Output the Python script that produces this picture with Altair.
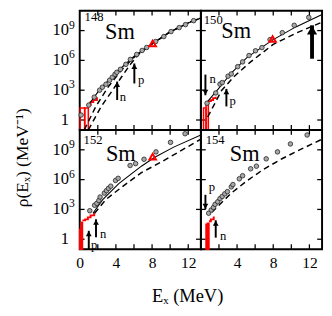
import altair as alt
import pandas as pd

W = 125
H = 123
XMAX = 13.4
FONT = "Liberation Serif"

xtick_vals = [2, 4, 6, 8, 10, 12]
ytick_vals = [0, 3, 6, 9]
ylab_vals = [0, 3, 6, 9]
ylab_base = ["1", "10", "10", "10"]
ylab_exp = ["", "3", "6", "9"]
xlab_left = [0, 4, 8, 12]
xlab_right = [4, 8, 12]

# ---------------- 148Sm ----------------
pts148_E = [0.15, 1.0, 1.6, 2.2, 2.5, 2.9, 3.3, 3.6, 3.9, 4.1, 4.5, 5.1, 5.6, 6.3, 6.9, 7.4, 8.4, 9.3, 10.1, 11.0, 11.7, 12.6]
pts148_lg = [0.5, 1.5, 2.3, 3.0, 3.3, 3.6, 4.0, 4.3, 4.6, 4.8, 5.1, 5.6, 6.1, 6.6, 7.0, 7.3, 7.9, 8.4, 8.9, 9.3, 9.6, 10.0]
sol148_E = [1.0, 2.18, 3.97, 6.11, 8.07, 10.04, 12.18, 13.4]
sol148_lg = [1.55, 3.03, 4.73, 6.49, 7.71, 8.89, 9.85, 10.26]
dA148_E = [0.5, 1.8, 3.2, 4.6, 6.0, 8.07, 10.04, 12.18, 13.4]
dA148_lg = [-1.0, 1.4, 3.4, 5.0, 6.3, 7.71, 8.89, 9.85, 10.26]
dB148_E = [0.95, 2.4, 3.6, 4.6, 5.6, 6.6, 8.07, 10.04, 12.18, 13.4]
dB148_lg = [-1.0, 1.4, 2.95, 4.3, 5.6, 6.7, 7.71, 8.89, 9.85, 10.26]
lev148_lo = [0.05, 0.55]
lev148_hi = [0.55, 0.95]
lev148_h = [1.2, 1.2]
st148_E = [0.95, 1.2, 1.5, 1.9]
st148_lg = [1.5, 1.8, 2.0, 2.3]
tri148_E = [8.07]
tri148_lg = [7.71]
arr148_E = [4.14, 6.04]
arr148_tail = [2.01, 3.68]
arr148_tip = [3.87, 5.69]
arr148_lab = ["n", "p"]
arr148_labE = [4.77, 6.79]
arr148_labY = [2.33, 4.0]
mass148 = ["148", 0.54, 10.33, 2.8, 8.12]

# ---------------- 150Sm ----------------
pts150_E = [0.68, 1.64, 2.11, 2.36, 3.0, 3.36, 4.07, 4.61, 5.32, 6.04, 6.75, 7.65, 9.0, 10.32, 11.93]
pts150_lg = [1.69, 2.72, 3.61, 3.77, 4.41, 4.64, 5.37, 5.85, 6.49, 6.97, 7.29, 8.09, 8.79, 9.53, 10.33]
sol150_E = [0.68, 1.93, 3.36, 5.14, 8.0, 10.5, 13.4]
sol150_lg = [1.8, 3.13, 4.73, 6.33, 8.09, 9.37, 10.62]
dA150_E = [0.75, 2.29, 3.71, 5.5, 8.0, 10.5, 13.4]
dA150_lg = [0.3, 2.97, 4.41, 5.85, 7.61, 8.73, 9.85]
lev150_lo = [0.29, 0.57]
lev150_hi = [0.57, 0.82]
lev150_h = [1.2, 1.75]
st150_E = [0.82, 1.1, 1.35, 1.64]
st150_lg = [1.9, 2.0, 2.2, 2.35]
tri150_E = [7.93]
tri150_lg = [8.15]
arr150_E = [0.5, 2.82]
arr150_tail = [4.57, 1.37]
arr150_tip = [2.49, 3.13]
arr150_lab = ["n", "p"]
arr150_labE = [1.29, 3.5]
arr150_labY = [4.09, 1.9]
big150_E = [12.29]
big150_tail = [6.17]
big150_tip = [9.53]
mass150 = ["150", 0.32, 10.09, 2.25, 8.22]

# ---------------- 152Sm ----------------
pts152_E = [1.11, 1.64, 1.89, 2.11, 2.25, 2.72, 2.96, 3.18, 3.43, 3.96, 4.25, 5.57, 6.18, 7.11, 8.43, 10.04, 11.65]
pts152_lg = [2.87, 3.42, 3.61, 3.90, 4.25, 4.64, 4.89, 5.12, 5.34, 5.91, 6.13, 7.42, 7.61, 8.05, 8.79, 9.75, 10.62]
sol152_E = [1.46, 2.54, 4.32, 6.82, 8.25, 10.39, 13.4]
sol152_lg = [2.62, 3.99, 5.6, 7.35, 8.22, 9.27, 10.49]
dA152_E = [1.64, 2.89, 4.68, 6.82, 8.96, 13.4]
dA152_lg = [2.62, 3.99, 5.27, 6.71, 7.74, 10.07]
lev152_lo = [0.0, 0.15]
lev152_hi = [0.15, 0.3]
lev152_h = [1.0, 1.7]
st152_E = [0.3, 0.6, 0.9, 1.2, 1.6]
st152_lg = [1.9, 2.0, 2.2, 2.4, 2.7]
tri152_E = [8.07]
tri152_lg = [8.31]
arr152_E = [1.0, 1.8]
arr152_tail = [-1.0, 0.2]
arr152_tip = [0.85, 2.0]
arr152_lab = ["p", "n"]
arr152_labE = [1.6, 2.6]
arr152_labY = [-0.6, 0.5]
mass152 = ["152", 0.43, 9.94, 2.9, 7.84]

# ---------------- 154Sm ----------------
pts154_E = [0.86, 1.14, 1.39, 1.57, 1.86, 2.11, 2.36, 2.64, 2.93, 3.36, 3.54, 4.25, 4.61, 5.5, 6.14, 7.22, 8.47, 9.9, 11.75]
pts154_lg = [2.62, 2.94, 3.2, 3.51, 3.77, 4.09, 4.31, 4.57, 4.79, 5.27, 5.5, 6.08, 6.39, 7.09, 7.35, 8.09, 8.79, 9.59, 10.49]
dA154_E = [1.21, 3.36, 5.14, 6.93, 9.07, 11.2, 13.4]
dA154_lg = [2.72, 4.64, 5.91, 7.04, 8.15, 9.11, 10.07]
lev154_lo = [0.57, 0.73]
lev154_hi = [0.73, 0.89]
lev154_h = [1.5, 1.6]
st154_E = [0.89, 1.1, 1.42]
st154_lg = [1.8, 2.0, 2.3]
arr154_E = [0.5, 1.64]
arr154_tail = [4.47, 0.16]
arr154_tip = [3.03, 1.91]
arr154_lab = ["p", "n"]
arr154_labE = [1.21, 2.47]
arr154_labY = [5.2, 0.32]
mass154 = ["154", 0.54, 9.94, 3.2, 7.84]

xs = alt.Scale(domain=[0, XMAX], nice=False, zero=False)
ys = alt.Scale(domain=[-1, 11], nice=False, zero=False)


def panel(pts_E, pts_lg, lines, lev, stair, tri, arrows, mass, xlabels, ylabels, big=None):
    if xlabels:
        ax = alt.Axis(values=xlabels, ticks=False, domain=False, grid=False, labelFont=FONT,
                      labelFontSize=16, labelColor="black", labelPadding=6, title=None,
                      labelFlush=False, labelOverlap=False)
    else:
        ax = None

    def X(f):
        return alt.X(f + ":Q", scale=xs, axis=ax)

    def Y(f):
        return alt.Y(f + ":Q", scale=ys, axis=None)

    L = []
    xt = pd.DataFrame({"t": xtick_vals})
    yt = pd.DataFrame({"t": ytick_vals})
    tick = dict(color="black", strokeWidth=1.3)
    L.append(alt.Chart(xt).mark_rule(**tick).encode(x=X("t"), y=alt.value(H), y2=alt.value(H - 5)))
    L.append(alt.Chart(xt).mark_rule(**tick).encode(x=X("t"), y=alt.value(0), y2=alt.value(5)))
    L.append(alt.Chart(yt).mark_rule(**tick).encode(y=Y("t"), x=alt.value(0), x2=alt.value(5)))
    L.append(alt.Chart(yt).mark_rule(**tick).encode(y=Y("t"), x=alt.value(W - 5), x2=alt.value(W)))

    # discrete levels (red histogram + staircase)
    bars = pd.DataFrame({"lo": lev[0], "hi": lev[1], "h": lev[2]})
    L.append(alt.Chart(bars).mark_rect(fillOpacity=0, stroke="red", strokeWidth=1.6).encode(
        x=X("lo"), x2="hi", y=Y("h"), y2=alt.value(H)))
    sd = pd.DataFrame({"E": stair[0], "lg": stair[1]})
    L.append(alt.Chart(sd).mark_line(interpolate="step-after", color="red", strokeWidth=2).encode(
        x=X("E"), y=Y("lg")))

    # model curves
    for (lx, ly, dashed) in lines:
        ld = pd.DataFrame({"E": lx, "lg": ly})
        if dashed:
            m = alt.Chart(ld).mark_line(color="black", strokeWidth=1.5, strokeDash=[6, 4], clip=True)
        else:
            m = alt.Chart(ld).mark_line(color="black", strokeWidth=1.1, clip=True)
        L.append(m.encode(x=X("E"), y=Y("lg")))

    # data points
    pd_ = pd.DataFrame({"E": pts_E, "lg": pts_lg})
    L.append(alt.Chart(pd_).mark_point(shape="circle", size=22, fill="#a8a8a8", stroke="#222",
                                       strokeWidth=0.8, fillOpacity=1, opacity=1).encode(x=X("E"), y=Y("lg")))

    # neutron resonance point
    if tri:
        td = pd.DataFrame({"E": tri[0], "lg": tri[1]})
        L.append(alt.Chart(td).mark_point(shape="triangle-up", filled=False, color="red", strokeWidth=2,
                                          size=45, opacity=1).encode(x=X("E"), y=Y("lg")))

    # arrows
    ad = pd.DataFrame({"E": arrows[0], "tail": arrows[1], "tip": arrows[2], "lab": arrows[3],
                       "lE": arrows[4], "lY": arrows[5]})
    ad["up"] = ad["tip"] > ad["tail"]
    L.append(alt.Chart(ad).mark_rule(color="black", strokeWidth=2).encode(x=X("E"), y=Y("tail"), y2="tip"))
    up = ad[ad["up"]]
    dn = ad[~ad["up"]]
    if len(up):
        L.append(alt.Chart(up).mark_point(shape="triangle-up", filled=True, color="black", size=36,
                                          opacity=1, yOffset=3).encode(x=X("E"), y=Y("tip")))
    if len(dn):
        L.append(alt.Chart(dn).mark_point(shape="triangle-down", filled=True, color="black", size=36,
                                          opacity=1, yOffset=-3).encode(x=X("E"), y=Y("tip")))
    L.append(alt.Chart(ad).mark_text(font=FONT, fontSize=13, color="black", align="center",
                                     baseline="middle").encode(x=X("lE"), y=Y("lY"), text="lab:N"))
    if big:
        bd = pd.DataFrame({"E": big[0], "tail": big[1], "tip": big[2]})
        L.append(alt.Chart(bd).mark_rule(color="black", strokeWidth=4).encode(x=X("E"), y=Y("tail"), y2="tip"))
        L.append(alt.Chart(bd).mark_point(shape="triangle-up", filled=True, color="black", size=110,
                                          opacity=1, yOffset=5).encode(x=X("E"), y=Y("tip")))

    # nucleus label
    md = pd.DataFrame({"A": [mass[0]], "aE": [mass[1]], "aY": [mass[2]], "S": ["Sm"],
                       "sE": [mass[3]], "sY": [mass[4]]})
    L.append(alt.Chart(md).mark_text(font=FONT, fontSize=13, color="black", align="left",
                                     baseline="middle").encode(x=X("aE"), y=Y("aY"), text="A:N"))
    L.append(alt.Chart(md).mark_text(font=FONT, fontSize=23, color="black", align="left",
                                     baseline="alphabetic").encode(x=X("sE"), y=Y("sY"), text="S:N"))

    if ylabels:
        yd = pd.DataFrame({"v": ylab_vals, "b": ylab_base, "e": ylab_exp})
        L.append(alt.Chart(yd).mark_text(font=FONT, fontSize=17, color="black", align="right",
                                         baseline="middle").encode(y=Y("v"), x=alt.value(-11), text="b:N"))
        L.append(alt.Chart(yd).mark_text(font=FONT, fontSize=12, color="black", align="left",
                                         baseline="middle", dy=-6).encode(y=Y("v"), x=alt.value(-11), text="e:N"))

    return alt.layer(*L).properties(width=W, height=H)


p148 = panel(pts148_E, pts148_lg,
             [(sol148_E, sol148_lg, False), (dA148_E, dA148_lg, True), (dB148_E, dB148_lg, True)],
             (lev148_lo, lev148_hi, lev148_h), (st148_E, st148_lg), (tri148_E, tri148_lg),
             (arr148_E, arr148_tail, arr148_tip, arr148_lab, arr148_labE, arr148_labY),
             mass148, None, True)
p150 = panel(pts150_E, pts150_lg,
             [(sol150_E, sol150_lg, False), (dA150_E, dA150_lg, True)],
             (lev150_lo, lev150_hi, lev150_h), (st150_E, st150_lg), (tri150_E, tri150_lg),
             (arr150_E, arr150_tail, arr150_tip, arr150_lab, arr150_labE, arr150_labY),
             mass150, None, False, big=(big150_E, big150_tail, big150_tip))
p152 = panel(pts152_E, pts152_lg,
             [(sol152_E, sol152_lg, False), (dA152_E, dA152_lg, True)],
             (lev152_lo, lev152_hi, lev152_h), (st152_E, st152_lg), (tri152_E, tri152_lg),
             (arr152_E, arr152_tail, arr152_tip, arr152_lab, arr152_labE, arr152_labY),
             mass152, xlab_left, True)
p154 = panel(pts154_E, pts154_lg,
             [(dA154_E, dA154_lg, True)],
             (lev154_lo, lev154_hi, lev154_h), (st154_E, st154_lg), None,
             (arr154_E, arr154_tail, arr154_tip, arr154_lab, arr154_labE, arr154_labY),
             mass154, xlab_right, False)

grid = alt.concat(p148, p150, p152, p154, columns=2, spacing=0, bounds="flush").properties(
    title=alt.TitleParams("Eₓ (MeV)", orient="bottom", anchor="middle", font=FONT, fontSize=19,
                          fontWeight="normal", color="black", offset=17))
chart = alt.vconcat(grid).properties(
    title=alt.TitleParams("ρ(Eₓ)  (MeV⁻¹)", orient="left", anchor="middle", font=FONT, fontSize=18,
                          fontWeight="normal", color="black", offset=20),
    padding={"left": 7, "top": -4, "right": 0, "bottom": 0})
chart = chart.configure_view(stroke="black", strokeWidth=2)

chart.save("out.html", embed_options={"renderer": "svg", "actions": False})
